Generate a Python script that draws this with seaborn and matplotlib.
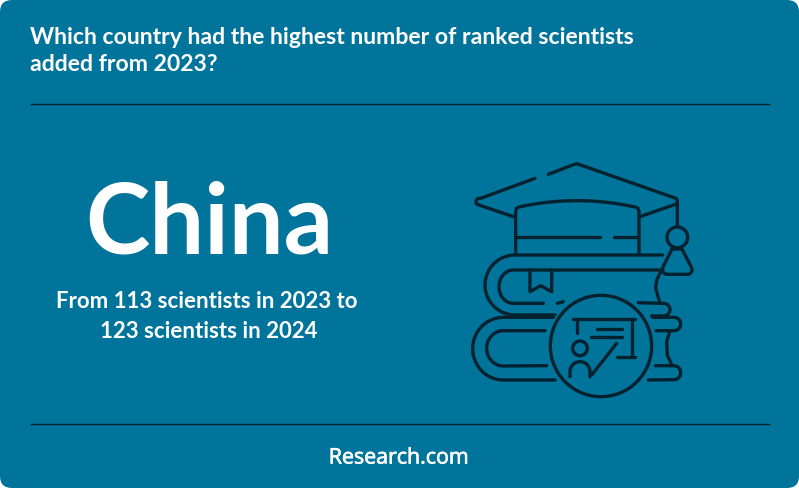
import numpy as np
import matplotlib
matplotlib.use('Agg')
import matplotlib.pyplot as plt
import matplotlib.patheffects as pe
from matplotlib.patches import FancyBboxPatch, Circle
import seaborn as sns

BG = '#00749a'
INK = '#03222f'

title_lines = ['Which country had the highest number of ranked scientists', 'added from 2023?']
answer = 'China'
detail_lines = ['From 113 scientists in 2023 to', '123 scientists in 2024']
brand = 'Research.com'

sns.set_theme(style='white')
plt.rcParams['font.family'] = ['Lato', 'DejaVu Sans']

fig, ax = plt.subplots(figsize=(7.99, 4.88), dpi=100)
fig.subplots_adjust(0, 0, 1, 1)
ax.set_xlim(0, 799)
ax.set_ylim(488, 0)
ax.axis('off')

# card with rounded corners
ax.add_patch(FancyBboxPatch((8, 8), 783, 472, boxstyle='round,pad=8,rounding_size=12',
                            fc=BG, ec='none', zorder=0))

# divider rules
for y in [104, 424]:
    sns.lineplot(x=[30, 770], y=[y, y], color=INK, lw=1, ax=ax, zorder=1, solid_capstyle='butt')

ax.text(30, 37.5, title_lines[0], color='white', fontsize=16.6, fontweight='bold', va='center', ha='left')
ax.text(30, 64.5, title_lines[1], color='white', fontsize=16.6, fontweight='bold', va='center', ha='left')
ax.text(209, 225, answer, color='white', fontsize=70, fontweight='bold', va='center', ha='center')
ax.text(207, 302, detail_lines[0], color='white', fontsize=16, fontweight='bold', va='center', ha='center')
ax.text(209, 332, detail_lines[1], color='white', fontsize=16, fontweight='bold', va='center', ha='center')
ax.text(399, 458, brand, color='white', fontsize=15.4, va='center', ha='center',
        family=['Open Sans', 'DejaVu Sans'],
        path_effects=[pe.withStroke(linewidth=0.5, foreground='white')])


# icon: coordinates taken from a 3x crop with origin at (460, 155)
def ix(v):
    return 460 + np.asarray(v, dtype=float) / 3


def iy(v):
    return 155 + np.asarray(v, dtype=float) / 3


def arc(cx, cy, rx, ry, a0, a1):
    t = np.radians(np.linspace(a0, a1, 40))
    return list(zip(cx + rx * np.cos(t), cy + ry * np.sin(t)))


def stroke(*parts):
    pts = []
    for p in parts:
        pts.extend(p if isinstance(p, list) else [p])
    pts = np.array(pts)
    ax.plot(ix(pts[:, 0]), iy(pts[:, 1]), color=INK, lw=2.4, solid_capstyle='round',
            solid_joinstyle='round', zorder=3)


def ring(cx, cy, r):
    ax.add_patch(Circle((ix(cx), iy(cy)), r / 3, fc='none', ec=INK, lw=2.4, zorder=3))


# cap
stroke((225, 70), (62, 130), arc(58, 140, 10, 10, 270, 120), (160, 185))
stroke((265, 58), (338, 30), (350, 26), (362, 30), (642, 128), arc(642, 140, 10, 12, -70, 0), (652, 215))
stroke((652, 146), (540, 185))
brim = [(x, 137 + 19 * ((x - 351) / 174) ** 2) for x in np.linspace(177, 525, 40)]
stroke((167, 295), (167, 170), (170, 160), brim, (534, 160), (537, 170), (537, 295))
stroke((170, 247), (420, 247))
stroke((462, 247), (535, 247))
# tassel
ring(652, 247, 31)
stroke((636, 282), (666, 282), (695, 338), arc(682, 344, 14, 14, 0, 90), (622, 358),
       arc(622, 344, 14, 14, 90, 180), (608, 338), (636, 282))

# upper book
stroke((608, 300), (165, 300), arc(165, 390, 90, 90, 270, 90), (285, 480))
stroke((605, 345), (160, 345), arc(160, 395, 43, 50, 270, 90), (250, 445))
stroke((605, 345), (590, 375), (587, 400), (600, 445))
stroke((535, 443), (608, 445), arc(610, 464, 20, 19, 270, 450), (575, 483))
stroke((210, 345), (210, 410), (242, 392), (275, 410), (275, 345))
stroke((292, 445), (310, 440))

# lower book
stroke((280, 487), (130, 487), arc(130, 581, 92, 94, 270, 90), (285, 675))
stroke((255, 527), (130, 527), arc(130, 580, 50, 53, 270, 90), (260, 632))
stroke((578, 487), (642, 487), arc(642, 507, 20, 20, 270, 450), (588, 527))
stroke((630, 527), (620, 560), (622, 600), (636, 632))
stroke((586, 632), (642, 632), arc(642, 653, 20, 21, 270, 450), (565, 675))

# badge on top of the books
ax.add_patch(Circle((ix(423), iy(573)), 152 / 3, fc=BG, ec=INK, lw=2.4, zorder=2.5))
stroke((340, 492), (525, 492))
stroke((350, 492), (350, 535))
stroke((515, 492), (515, 607))
stroke((470, 607), (525, 607))
stroke((412, 522), (485, 522))
stroke((392, 545), (485, 545))
ring(360, 580, 22)
stroke((330, 665), arc(360, 650, 30, 30, 180, 360), (390, 665))
stroke((395, 660), (470, 565))

fig.savefig('out.png', dpi=100)
